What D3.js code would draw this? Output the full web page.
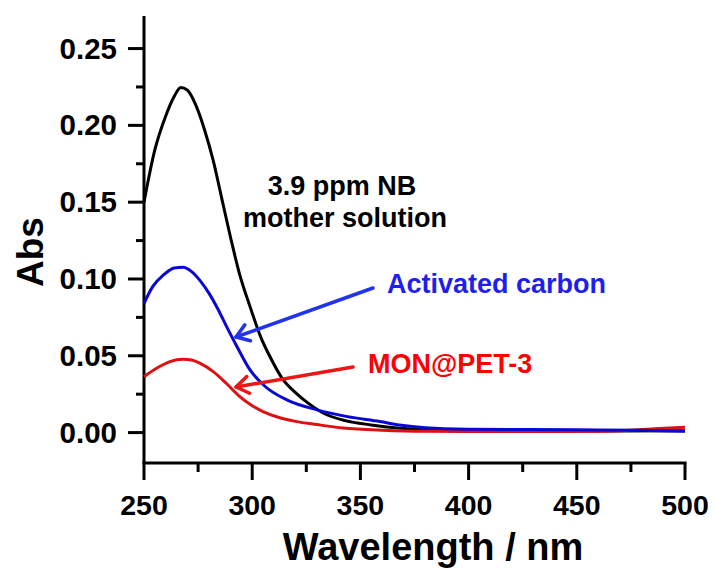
<!DOCTYPE html>
<html>
<head>
<meta charset="utf-8">
<script src="https://cdn.jsdelivr.net/npm/d3@7"></script>
<style>
  html, body { margin: 0; padding: 0; background: #fff; }
  svg { display: block; font-family: "Liberation Sans", Arial, sans-serif; }
</style>
</head>
<body>
<svg id="chart" width="715" height="570"></svg>
<script>
// ---- data ----
const xTicks = [250, 300, 350, 400, 450, 500];
const yTicks = [0.00, 0.05, 0.10, 0.15, 0.20, 0.25];

const motherWl  = [250, 255, 260, 264, 267, 270, 274, 278, 282, 286, 290, 294, 299, 304, 308, 314, 320, 326, 333, 343, 355, 367, 380, 400, 450, 500];
const motherAbs = [0.150, 0.184, 0.206, 0.219, 0.2246, 0.223, 0.213, 0.197, 0.177, 0.152, 0.127, 0.104, 0.082, 0.062, 0.050, 0.035, 0.026, 0.019, 0.0126, 0.0078, 0.005, 0.003, 0.0018, 0.0012, 0.001, 0.0012];

const carbonWl  = [250, 254, 259, 264, 268, 272, 276, 280, 284, 288, 293, 299, 306, 316, 330, 344, 359, 368, 380, 400, 450, 480, 500];
const carbonAbs = [0.084, 0.095, 0.1026, 0.1072, 0.1076, 0.1048, 0.0988, 0.0908, 0.0808, 0.0695, 0.0559, 0.0408, 0.030, 0.0213, 0.0148, 0.0104, 0.0072, 0.005, 0.0032, 0.0022, 0.0018, 0.0015, 0.0008];

const monWl  = [250, 256, 262, 268, 272, 276, 282, 288, 294, 300, 305, 312, 320, 330, 342, 360, 380, 420, 460, 475, 488, 500];
const monAbs = [0.0364, 0.042, 0.0462, 0.0477, 0.0472, 0.0451, 0.0397, 0.0321, 0.0238, 0.0175, 0.0137, 0.0100, 0.0073, 0.0052, 0.003, 0.0015, 0.0008, 0.0007, 0.0008, 0.0015, 0.0026, 0.0035];

const seriesNames  = ["3.9 ppm NB mother solution", "Activated carbon", "MON@PET-3"];
const seriesColors = ["#000000", "#0808d0", "#dd1111"];

// ---- layout ----
const svg = d3.select("#chart");
const L = 144, R = 685, T = 16, B = 463;

const x = d3.scaleLinear().domain([250, 500]).range([L, R]);
const y = d3.scaleLinear().domain([-0.0198, 0.2712]).range([B, T]);

// axes lines
svg.append("line").attr("x1", L).attr("x2", L).attr("y1", T).attr("y2", B)
  .attr("stroke", "#000").attr("stroke-width", 3);
svg.append("line").attr("x1", L - 1.5).attr("x2", R + 1.5).attr("y1", B).attr("y2", B)
  .attr("stroke", "#000").attr("stroke-width", 3);

// y ticks (major + minor), outward
const yMinor = d3.range(0.025, 0.26, 0.05);
svg.selectAll(".ymaj").data(yTicks).join("line")
  .attr("x1", L - 16).attr("x2", L).attr("y1", d => y(d)).attr("y2", d => y(d))
  .attr("stroke", "#000").attr("stroke-width", 3);
svg.selectAll(".ymin").data(yMinor).join("line")
  .attr("x1", L - 8).attr("x2", L).attr("y1", d => y(d)).attr("y2", d => y(d))
  .attr("stroke", "#000").attr("stroke-width", 3);
svg.selectAll(".ylab").data(yTicks).join("text")
  .attr("x", 117).attr("y", d => y(d) + 10)
  .attr("text-anchor", "end").attr("font-weight", "bold").attr("font-size", 29.5)
  .text(d => d3.format(".2f")(d));

// x ticks (major + minor), outward
const xMinor = d3.range(275, 500, 50);
svg.selectAll(".xmaj").data(xTicks).join("line")
  .attr("x1", d => x(d)).attr("x2", d => x(d)).attr("y1", B).attr("y2", B + 17)
  .attr("stroke", "#000").attr("stroke-width", 3);
svg.selectAll(".xmin").data(xMinor).join("line")
  .attr("x1", d => x(d)).attr("x2", d => x(d)).attr("y1", B).attr("y2", B + 9)
  .attr("stroke", "#000").attr("stroke-width", 3);
svg.selectAll(".xlab").data(xTicks).join("text")
  .attr("x", d => x(d)).attr("y", 515)
  .attr("text-anchor", "middle").attr("font-weight", "bold").attr("font-size", 28.5)
  .text(d => d);

// axis titles
svg.append("text").attr("x", 433).attr("y", 560)
  .attr("text-anchor", "middle").attr("font-weight", "bold").attr("font-size", 38)
  .text("Wavelength / nm");
svg.append("text").attr("transform", "translate(43,252) rotate(-90)")
  .attr("text-anchor", "middle").attr("font-weight", "bold").attr("font-size", 37)
  .text("Abs");

// curves
const line = d3.line().x(d => x(d[0])).y(d => y(d[1])).curve(d3.curveMonotoneX);
const series = [
  d3.zip(motherWl, motherAbs),
  d3.zip(carbonWl, carbonAbs),
  d3.zip(monWl, monAbs)
];
[0, 2, 1].forEach(i => {
  svg.append("path").datum(series[i])
    .attr("d", line).attr("fill", "none")
    .attr("stroke", seriesColors[i]).attr("stroke-width", 3)
    .attr("stroke-linejoin", "round");
});

// annotations
svg.append("text").attr("x", 342).attr("y", 195)
  .attr("text-anchor", "middle").attr("font-weight", "bold").attr("font-size", 27)
  .text("3.9 ppm NB");
svg.append("text").attr("x", 345).attr("y", 227)
  .attr("text-anchor", "middle").attr("font-weight", "bold").attr("font-size", 27)
  .text("mother solution");
svg.append("text").attr("x", 387).attr("y", 293)
  .attr("font-weight", "bold").attr("font-size", 27).attr("fill", "#1e1ef0")
  .text("Activated carbon");
svg.append("text").attr("x", 368).attr("y", 373)
  .attr("font-weight", "bold").attr("font-size", 27).attr("fill", "#ff0000")
  .text("MON@PET-3");

// arrows (open V heads)
function arrow(x0, y0, x1, y1, color) {
  const g = svg.append("g").attr("stroke", color).attr("stroke-width", 3.5)
    .attr("fill", "none").attr("stroke-linecap", "round").attr("stroke-linejoin", "round");
  g.append("line").attr("x1", x0).attr("y1", y0).attr("x2", x1).attr("y2", y1);
  const ang = Math.atan2(y0 - y1, x0 - x1);
  const len = 15, spread = 0.6;
  const p1 = [x1 + len * Math.cos(ang + spread), y1 + len * Math.sin(ang + spread)];
  const p2 = [x1 + len * Math.cos(ang - spread), y1 + len * Math.sin(ang - spread)];
  g.append("path").attr("d", `M${p1[0]},${p1[1]} L${x1},${y1} L${p2[0]},${p2[1]}`);
}
arrow(373, 288, 236, 337, "#2233ee");
arrow(353, 367, 236, 387, "#ee1515");
</script>
</body>
</html>
